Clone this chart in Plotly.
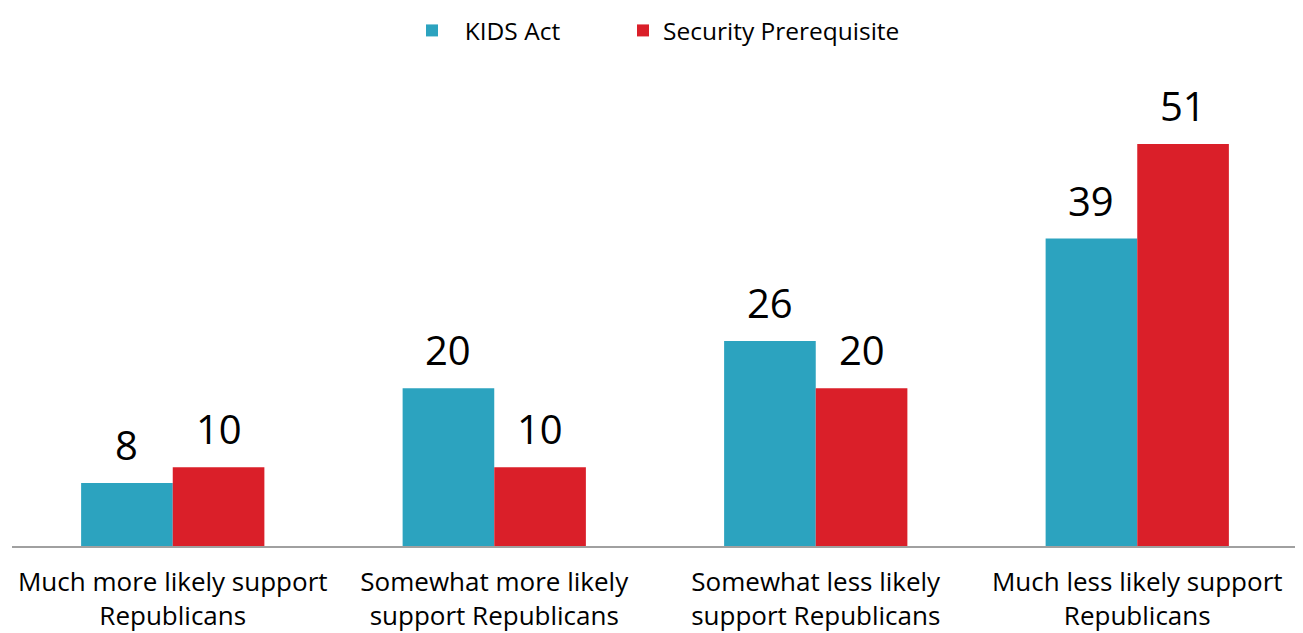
import plotly.graph_objects as go

categories = ["Much more likely support<br>Republicans",
              "Somewhat more likely<br>support Republicans",
              "Somewhat less likely<br>support Republicans",
              "Much less likely support<br>Republicans"]
kids_act = [8, 20, 26, 39]
security = [10, 10, 20, 51]
series_names = ["\u00a0\u00a0KIDS Act", "Security Prerequisite"]

TEAL = "#2CA3BF"
RED = "#DA1F29"
FONT = "Open Sans, Lato, DejaVu Sans, sans-serif"

# page body has an 8px default margin, so the figure is drawn 8px smaller
W, H = 1295, 625
ML, MR, MT, MB = 4, 5, 65, 87
BARGAP = 0.43

fig = go.Figure()
for name, vals, col, lg in [(series_names[0], kids_act, TEAL, "legend"),
                            (series_names[1], security, RED, "legend2")]:
    fig.add_trace(go.Bar(name=name, x=categories, y=vals, marker_color=col,
                         marker_line_width=0, hoverinfo="x+y", legend=lg))

# value labels above bars (offset half a bar width left/right of category centre)
cat_px = (W - ML - MR) / len(categories)
bar_px = cat_px * (1 - BARGAP) / 2
for vals, sign in [(kids_act, -1), (security, 1)]:
    for c, v in zip(categories, vals):
        fig.add_annotation(x=c, y=v, xref="x", yref="y", text=str(v), showarrow=False,
                           xshift=sign * bar_px / 2, yanchor="bottom", yshift=9,
                           font=dict(size=40, color="black", family=FONT))

plot_w = W - ML - MR
legend_common = dict(orientation="h", xanchor="left", xref="paper",
                     y=1.0, yref="container", yanchor="top",
                     font=dict(size=24.5, color="black"), itemwidth=30,
                     bgcolor="rgba(0,0,0,0)")

fig.update_layout(
    width=W, height=H,
    barmode="group", bargap=BARGAP, bargroupgap=0,
    paper_bgcolor="white", plot_bgcolor="white",
    margin=dict(l=ML, r=MR, t=MT, b=MB, autoexpand=False),
    font=dict(family=FONT, color="black"),
    showlegend=True,
    legend=dict(x=(426 - 8 - ML - 14) / plot_w, **legend_common),
    legend2=dict(x=(637 - 8 - ML - 14) / plot_w, **legend_common),
)
fig.update_xaxes(showline=True, linecolor="#A0A0A0", linewidth=2, ticks="",
                 tickfont=dict(size=26, color="black"), ticklabelstandoff=12,
                 showgrid=False, automargin=False)
fig.update_yaxes(range=[0, 60], visible=False, showgrid=False, automargin=False)

fig.write_html("out.html")
